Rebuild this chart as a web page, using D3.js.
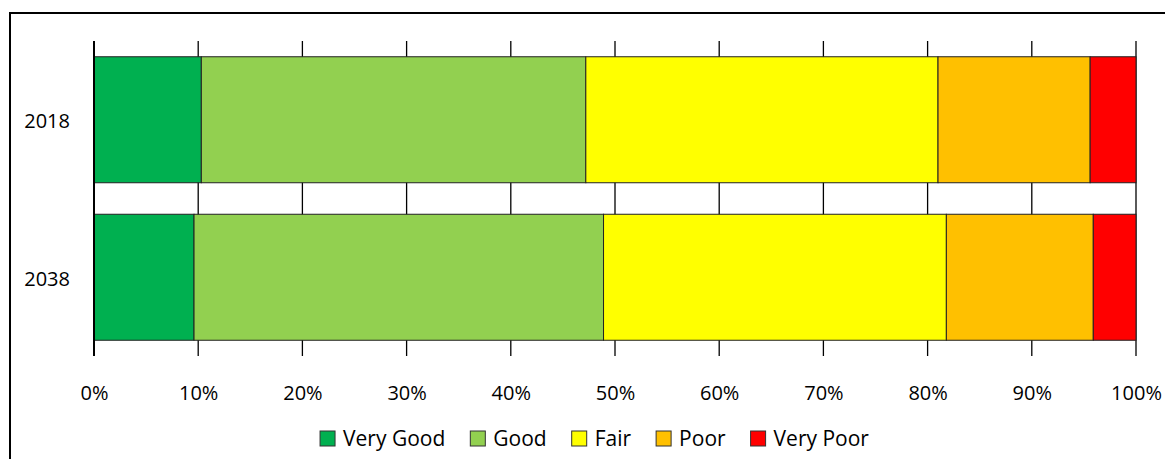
<!DOCTYPE html>
<html>
<head>
<meta charset="utf-8">
<script src="https://cdn.jsdelivr.net/npm/d3@7"></script>
<style>
  html, body { margin: 0; padding: 0; background: #fff; }
  svg { display: block; font-family: "Open Sans", "Liberation Sans", sans-serif; }
</style>
</head>
<body>
<svg id="chart" width="1165" height="459"></svg>
<script>
// Condition shares (%) per year
const years = ["2018", "2038"];
const ratings = ["Very Good", "Good", "Fair", "Poor", "Very Poor"];
const share2018 = [10.3, 36.9, 33.8, 14.6, 4.4];
const share2038 = [9.6, 39.3, 32.9, 14.1, 4.1];
const ratingColors = ["#00B050", "#92D050", "#FFFF00", "#FFC000", "#FF0000"];
const tickValues = [0, 10, 20, 30, 40, 50, 60, 70, 80, 90, 100];

const rows = years.map((y, i) => {
  const vals = [share2018, share2038][i];
  const r = { year: y };
  ratings.forEach((k, j) => r[k] = vals[j]);
  return r;
});

const svg = d3.select("#chart");
const W = 1165, H = 459;
const plot = { left: 94, right: 1136, top: 41, bottom: 356 };

// chart frame
svg.append("rect")
  .attr("x", 10).attr("y", 13).attr("width", W + 20).attr("height", H + 20)
  .attr("fill", "#fff").attr("stroke", "#000").attr("stroke-width", 2);

const x = d3.scaleLinear().domain([0, 100]).range([plot.left, plot.right]);
const y = d3.scaleBand().domain(years).range([plot.top, plot.bottom])
  .paddingInner(0.2).paddingOuter(0.1);

// vertical gridlines
svg.append("g")
  .selectAll("line").data(tickValues.slice(1)).join("line")
  .attr("x1", d => x(d)).attr("x2", d => x(d))
  .attr("y1", plot.top).attr("y2", plot.bottom)
  .attr("stroke", "#000").attr("stroke-width", 1.3);

// stacked bars
const stack = d3.stack().keys(ratings)(rows);
svg.append("g").selectAll("g").data(stack).join("g")
  .attr("fill", (d, i) => ratingColors[i])
  .selectAll("rect").data(d => d).join("rect")
  .attr("x", d => x(d[0]))
  .attr("width", d => x(d[1]) - x(d[0]))
  .attr("y", d => y(d.data.year))
  .attr("height", y.bandwidth())
  .attr("stroke", "#222").attr("stroke-width", 1);

// category axis line
svg.append("line")
  .attr("x1", plot.left).attr("x2", plot.left)
  .attr("y1", plot.top).attr("y2", plot.bottom)
  .attr("stroke", "#000").attr("stroke-width", 2);

// x tick labels
const xAxis = d3.axisBottom(x).tickValues(tickValues).tickFormat(d => d + "%").tickSize(0).tickPadding(0);
const gx = svg.append("g").attr("transform", `translate(0,${plot.bottom + 30})`).call(xAxis);
gx.select(".domain").remove();
gx.selectAll("text").attr("font-size", 20).attr("fill", "#000")
  .attr("font-family", "'Open Sans', sans-serif").attr("dy", "0.71em");

// year labels
const yAxis = d3.axisLeft(y).tickSize(0).tickPadding(24);
const gy = svg.append("g").attr("transform", `translate(${plot.left},0)`).call(yAxis);
gy.select(".domain").remove();
gy.selectAll("text").attr("font-size", 20).attr("fill", "#000")
  .attr("font-family", "'Open Sans', sans-serif").attr("dy", "0.42em");

// legend
const legend = svg.append("g");
let cx = 0;
ratings.forEach((r, i) => {
  const g = legend.append("g");
  g.append("rect").attr("x", 0).attr("y", -15).attr("width", 15).attr("height", 15)
    .attr("fill", ratingColors[i]).attr("stroke", "#333").attr("stroke-width", 1);
  const t = g.append("text").attr("x", 23).attr("y", 0).attr("font-size", 21)
    .attr("fill", "#000").text(r);
  const w = 23 + t.node().getComputedTextLength();
  g.attr("transform", `translate(${cx},0)`);
  cx += w + 25;
});
const totalW = cx - 25;
legend.attr("transform", `translate(${(320 + 869) / 2 - totalW / 2},446)`);
</script>
</body>
</html>
